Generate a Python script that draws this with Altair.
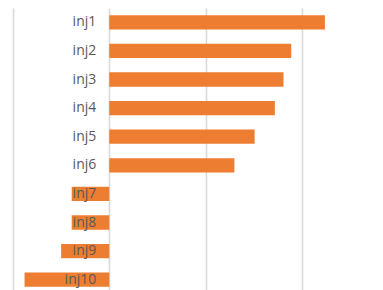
import altair as alt
import pandas as pd

categories = ["inj1", "inj2", "inj3", "inj4", "inj5", "inj6", "inj7", "inj8", "inj9", "inj10"]
values = [2.24, 1.89, 1.81, 1.72, 1.51, 1.30, -0.39, -0.39, -0.50, -0.88]
grid_ticks = [-1, 0, 1, 2]

df = pd.DataFrame({"cat": categories, "val": values})

y_enc = alt.Y("cat:N", sort=categories, axis=None,
              scale=alt.Scale(paddingInner=0.5, paddingOuter=0.25))
x_scale = alt.Scale(domain=[-1.052, 2.75], nice=False, zero=False)

bars = alt.Chart(df).mark_bar(color="#ed7d31").encode(
    x=alt.X("val:Q", scale=x_scale,
            axis=alt.Axis(values=grid_ticks, labels=False, ticks=False, domain=False,
                          grid=True, gridColor="#d9d9d9", gridWidth=1.6, title=None)),
    x2=alt.datum(0),
    y=y_enc,
)

labels = alt.Chart(df).transform_calculate(zero="0").mark_text(
    align="right", baseline="middle", dx=-13, font="Open Sans", fontSize=14, color="#595959"
).encode(
    x=alt.X("zero:Q", scale=x_scale),
    y=y_enc,
    text="cat:N",
)

chart = alt.layer(bars, labels).properties(
    width=366, height=286, padding=0
).configure_view(strokeWidth=0)

chart.save("out.html", embed_options={"renderer": "svg", "actions": False})
